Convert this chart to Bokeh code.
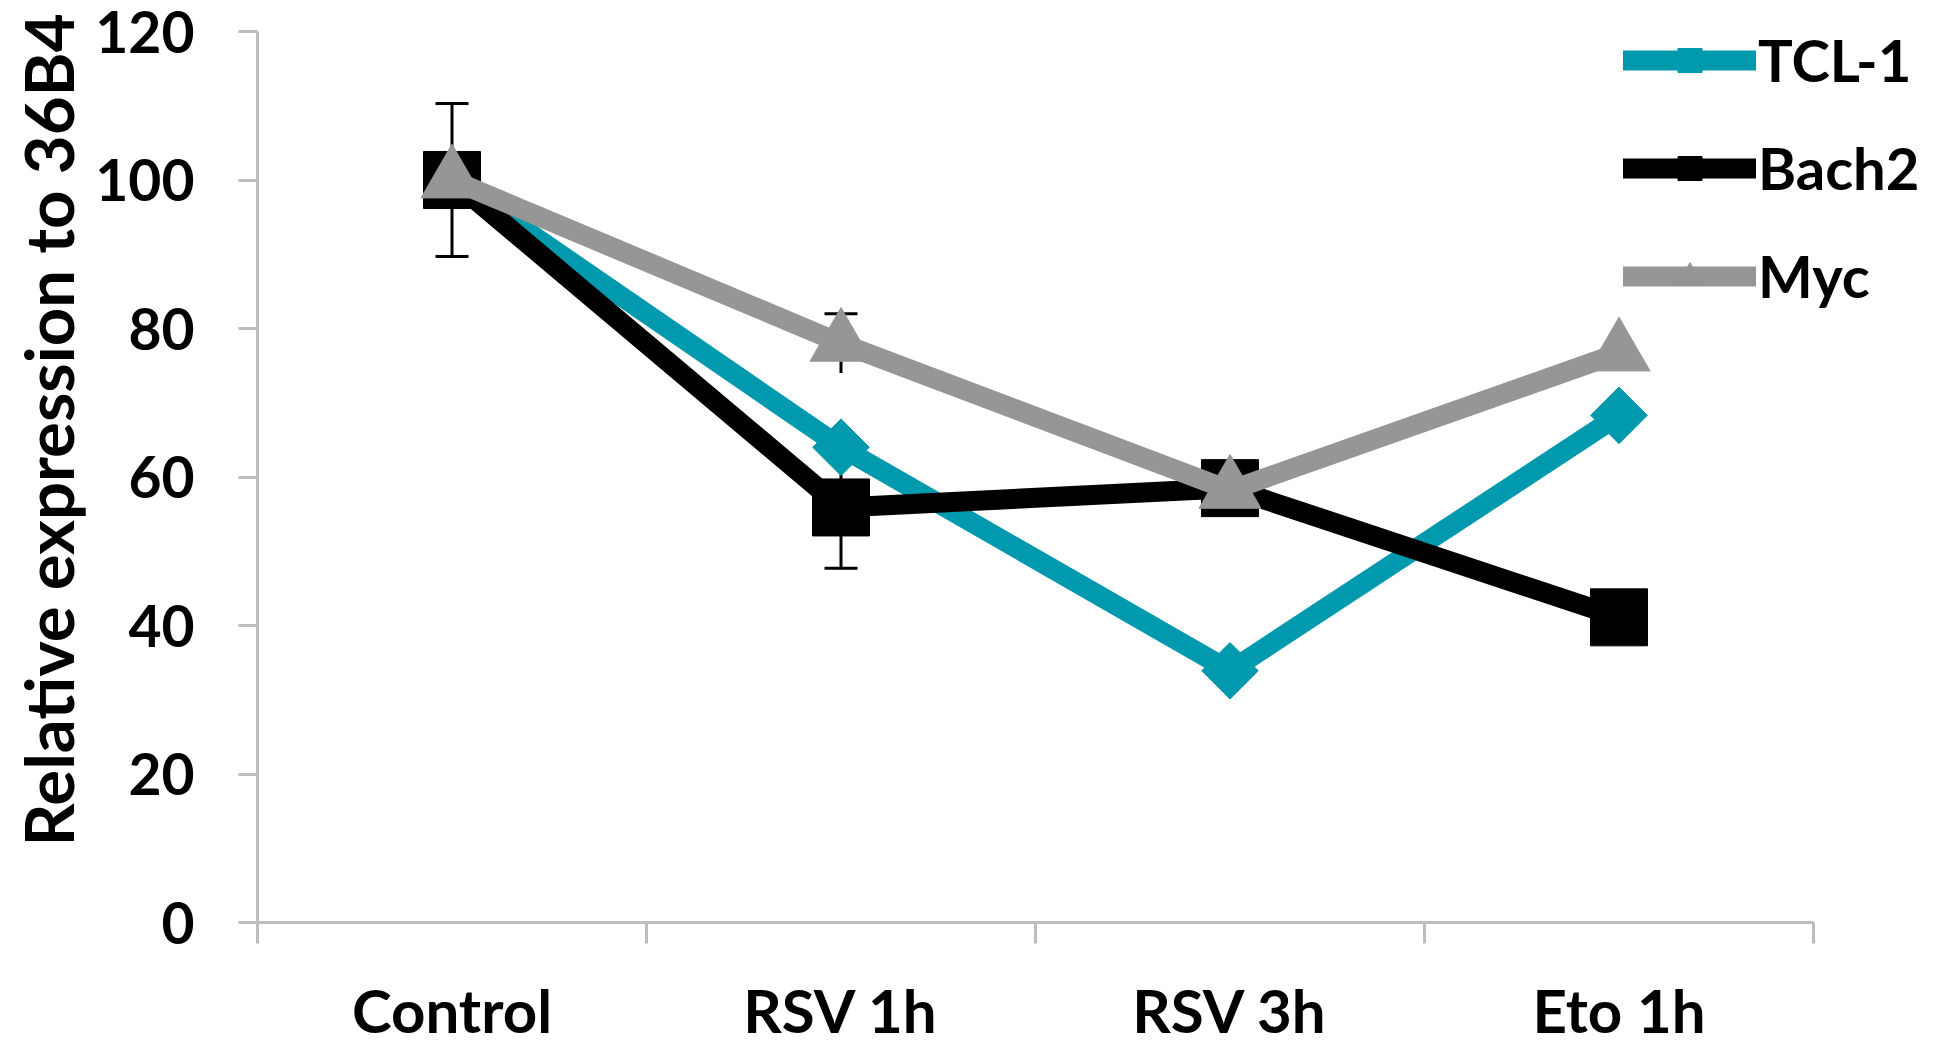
import math
from bokeh.plotting import figure
from bokeh.models import (ColumnDataSource, Range1d, LinearAxis, FixedTicker, Whisker, TeeHead,
                          Legend, LegendItem, Title)
from bokeh.embed import file_html
from bokeh.resources import INLINE

# ---------------- data ----------------
categories = ["Control", "RSV 1h", "RSV 3h", "Eto 1h"]
tcl1 = [100.0, 64.0, 33.9, 68.3]
bach2 = [100.0, 55.9, 58.5, 41.1]
myc = [100.0, 78.0, 58.2, 76.7]
tcl1_err = [0.0, 0.0, 0.0, 0.0]
bach2_err = [10.3, 8.2, 0.0, 0.0]
myc_err = [0.0, 4.0, 0.0, 0.0]
y_ticks = [0, 20, 40, 60, 80, 100, 120]
series_names = ["TCL-1", "Bach2", "Myc"]

TEAL = "#0099ae"
BLACK = "#000000"
GRAY = "#969696"
AXIS_GRAY = "#bdbdbd"
FONT = "Lato"

W, H = 1944, 1053
LEFT, TOP, BOTTOM = 257, 31, 131
AXIS_END_PX = 1813  # where the category axis ends (legend text runs past it)

n = len(categories)
xpos = [i + 0.5 for i in range(n)]               # category centres on the category scale
x_end = n * (W - LEFT) / (AXIS_END_PX - LEFT)    # room on the right for the legend

p = figure(width=W, height=H, x_range=Range1d(0, x_end), y_range=Range1d(0, 120),
           x_axis_type=None, y_axis_type=None, output_backend="svg", toolbar_location=None,
           min_border_left=LEFT, min_border_right=0, min_border_top=TOP, min_border_bottom=BOTTOM)
p.outline_line_color = None
p.xgrid.visible = False
p.ygrid.visible = False
p.background_fill_color = "white"
p.border_fill_color = "white"

# y axis
yax = LinearAxis(ticker=FixedTicker(ticks=y_ticks))
yax.axis_line_color = AXIS_GRAY
yax.axis_line_width = 3
yax.major_tick_line_color = AXIS_GRAY
yax.major_tick_line_width = 3
yax.major_tick_out = 19
yax.major_tick_in = 0
yax.minor_tick_line_color = None
yax.major_label_standoff = 44
yax.major_label_text_font = FONT
yax.major_label_text_font_style = "bold"
yax.major_label_text_font_size = "57px"
yax.major_label_text_color = "black"
p.add_layout(yax, "left")

# y-axis title
ytitle = Title(text="Relative expression to 36B4", align="right", offset=-18,
               text_font=FONT, text_font_style="bold", text_font_size="67px",
               text_color="black", standoff=10)
p.add_layout(ytitle, "left")

# x axis: separator ticks between categories
sep = LinearAxis(ticker=FixedTicker(ticks=list(range(n + 1))), bounds=(0, n))
sep.axis_line_color = AXIS_GRAY
sep.axis_line_width = 3
sep.major_tick_line_color = AXIS_GRAY
sep.major_tick_line_width = 3
sep.major_tick_out = 21
sep.major_tick_in = 0
sep.minor_tick_line_color = None
sep.major_label_text_font_size = "0px"
sep.major_label_standoff = 0
sep.major_label_text_color = None
p.add_layout(sep, "below")

# x axis: category names at the centres
cax = LinearAxis(ticker=FixedTicker(ticks=xpos),
                 major_label_overrides={x: c for x, c in zip(xpos, categories)})
cax.axis_line_color = None
cax.major_tick_line_color = None
cax.major_tick_out = 0
cax.major_tick_in = 0
cax.minor_tick_line_color = None
cax.major_label_standoff = 30
cax.major_label_text_font = FONT
cax.major_label_text_font_style = "bold"
cax.major_label_text_font_size = "60px"
cax.major_label_text_color = "black"
p.add_layout(cax, "below")

# error bars (under the lines)
def add_err(vals, errs, lower_cap=True):
    xs = [x for x, e in zip(xpos, errs) if e > 0]
    up = [v + e for v, e in zip(vals, errs) if e > 0]
    lo = [v - e for v, e in zip(vals, errs) if e > 0]
    if not xs:
        return
    src = ColumnDataSource(dict(x=xs, upper=up, lower=lo))
    w = Whisker(base="x", upper="upper", lower="lower", source=src, dimension="height",
                line_color="black", line_width=3, level="underlay",
                upper_head=TeeHead(size=33, line_width=3, line_color="black"),
                lower_head=TeeHead(size=33, line_width=3, line_color="black") if lower_cap else None)
    p.add_layout(w)

add_err(tcl1, tcl1_err)
add_err(bach2, bach2_err)
add_err(myc, myc_err, lower_cap=False)

LW = 20
specs = [
    (series_names[0], tcl1, TEAL, "square", 40, math.pi / 4, 27),
    (series_names[1], bach2, BLACK, "square", 57, 0.0, 37),
    (series_names[2], myc, GRAY, "triangle", 62, 0.0, 40),
]

items = []
for name, vals, col, mk, sz, ang, lsz in specs:
    src = ColumnDataSource(dict(x=xpos, y=vals))
    p.line("x", "y", source=src, line_color=col, line_width=LW, line_join="round")
    p.scatter("x", "y", source=src, marker=mk, size=sz, angle=ang,
              fill_color=col, line_color=col)
    # legend glyphs (smaller markers, nothing drawn in the plot)
    lsrc = ColumnDataSource(dict(x=[float("nan")], y=[float("nan")]))
    lr1 = p.line("x", "y", source=lsrc, line_color=col, line_width=LW, line_cap="round")
    lr2 = p.scatter("x", "y", source=lsrc, marker=mk, size=lsz, angle=ang,
                    fill_color=col, line_color=col)
    items.append(LegendItem(label=name, renderers=[lr1, lr2]))

legend = Legend(items=items, location=(1366, 612))
legend.glyph_width = 133
legend.glyph_height = 60
legend.label_height = 60
legend.spacing = 39
legend.padding = 0
legend.margin = 0
legend.label_standoff = 2
legend.border_line_color = None
legend.background_fill_alpha = 0
legend.label_text_font = FONT
legend.label_text_font_style = "bold"
legend.label_text_font_size = "58px"
legend.label_text_color = "black"
p.add_layout(legend, "center")

open("out.html", "w").write(file_html(p, INLINE))
